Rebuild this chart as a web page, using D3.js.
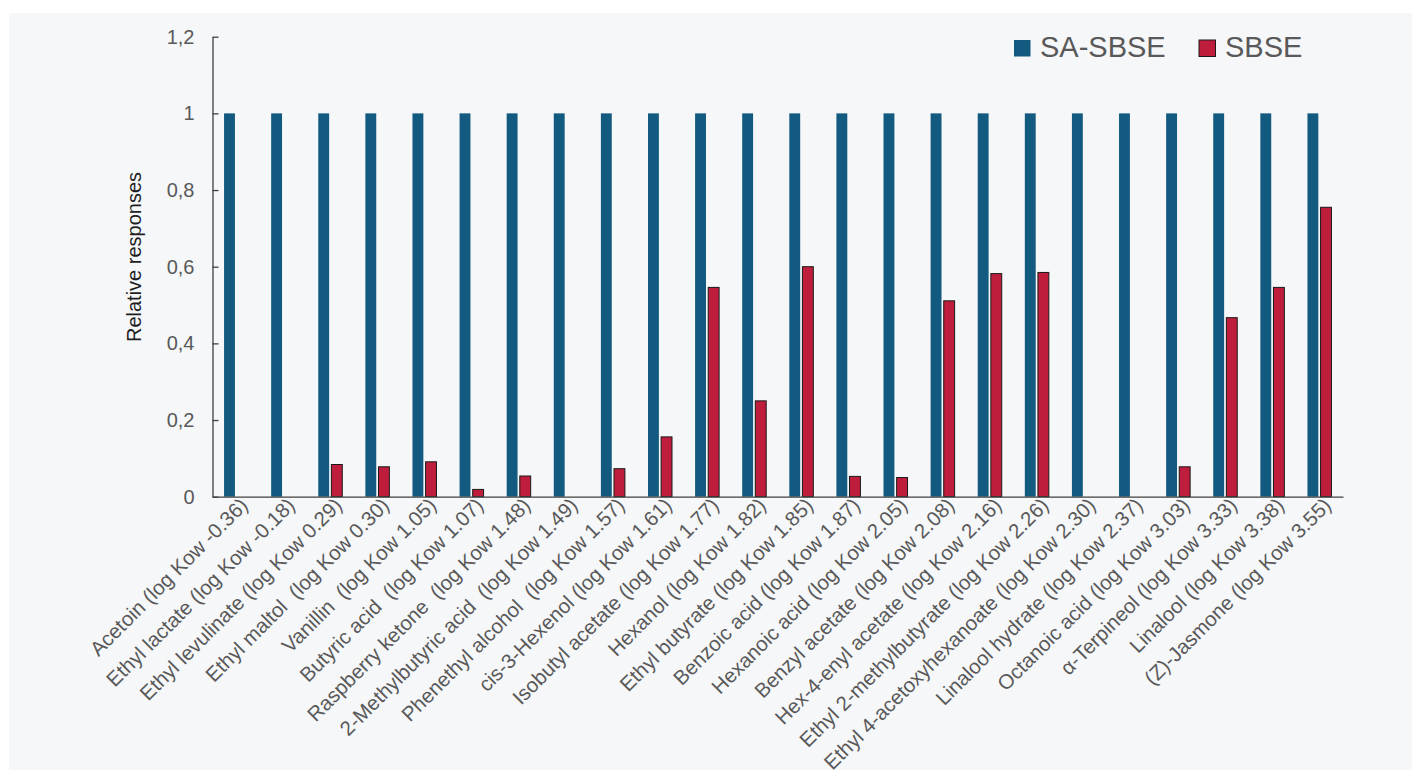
<!DOCTYPE html>
<html>
<head>
<meta charset="utf-8">
<script src="https://cdn.jsdelivr.net/npm/d3@7"></script>
<style>
  html, body { margin: 0; padding: 0; background: #ffffff; }
  svg { display: block; font-family: "Liberation Sans", Arial, sans-serif; }
  .cat-label { white-space: pre; }
</style>
</head>
<body>
<svg id="chart" width="1421" height="778"></svg>
<script>
// Compounds (with their log Kow) on the category axis
const compounds = [
  "Acetoin (log Kow -0.36)",
  "Ethyl lactate (log Kow -0.18)",
  "Ethyl levulinate (log Kow 0.29)",
  "Ethyl maltol  (log Kow 0.30)",
  "Vanillin  (log Kow 1.05)",
  "Butyric acid  (log Kow 1.07)",
  "Raspberry ketone  (log Kow 1.48)",
  "2-Methylbutyric acid  (log Kow 1.49)",
  "Phenethyl alcohol  (log Kow 1.57)",
  "cis-3-Hexenol (log Kow 1.61)",
  "Isobutyl acetate (log Kow 1.77)",
  "Hexanol (log Kow 1.82)",
  "Ethyl butyrate (log Kow 1.85)",
  "Benzoic acid (log Kow 1.87)",
  "Hexanoic acid (log Kow 2.05)",
  "Benzyl acetate (log Kow 2.08)",
  "Hex-4-enyl acetate (log Kow 2.16)",
  "Ethyl 2-methylbutyrate (log Kow 2.26)",
  "Ethyl 4-acetoxyhexanoate (log Kow 2.30)",
  "Linalool hydrate (log Kow 2.37)",
  "Octanoic acid (log Kow 3.03)",
  "α-Terpineol (log Kow 3.33)",
  "Linalool (log Kow 3.38)",
  "(Z)-Jasmone (log Kow 3.55)"
];

// Relative responses, SA-SBSE taken as reference (= 1)
const saSbse = [1, 1, 1, 1, 1, 1, 1, 1, 1, 1, 1, 1, 1, 1, 1, 1, 1, 1, 1, 1, 1, 1, 1, 1];
const sbse = [0, 0, 0.084, 0.078, 0.091, 0.019, 0.054, 0, 0.073, 0.156,
              0.546, 0.250, 0.600, 0.053, 0.050, 0.511, 0.582, 0.585,
              0, 0, 0.078, 0.467, 0.546, 0.755];

const seriesNames = ["SA-SBSE", "SBSE"];
const seriesColors = ["#135a80", "#be1e3c"];

const yTickValues = [0, 0.2, 0.4, 0.6, 0.8, 1, 1.2];
const yTickLabels = ["0", "0,2", "0,4", "0,6", "0,8", "1", "1,2"];
const yTitle = "Relative responses";

const svg = d3.select("#chart");
const textColor = "#595959";
const axisColor = "#404040";

// panel background
svg.append("rect")
  .attr("x", 9).attr("y", 13)
  .attr("width", 1403).attr("height", 757)
  .attr("fill", "#f6f7f9");

const plot = { left: 212.5, right: 1343, top: 36.7, bottom: 496.7 };

const x0 = d3.scaleBand()
  .domain(compounds)
  .range([plot.left, plot.right])
  .padding(0);

const pairWidth = 24;
const x1 = d3.scaleBand()
  .domain(seriesNames)
  .range([x0.bandwidth() / 2 - pairWidth / 2, x0.bandwidth() / 2 + pairWidth / 2])
  .paddingInner(0.17)
  .paddingOuter(0);

const y = d3.scaleLinear()
  .domain([0, 1.2])
  .range([plot.bottom, plot.top]);

const rows = compounds.map((c, i) => ({
  name: c,
  values: [
    { series: seriesNames[0], value: saSbse[i] },
    { series: seriesNames[1], value: sbse[i] }
  ]
}));

// bars
const groups = svg.append("g").selectAll("g")
  .data(rows)
  .join("g")
  .attr("transform", d => `translate(${x0(d.name)},0)`);

groups.selectAll("rect")
  .data(d => d.values.filter(v => v.value > 0))
  .join("rect")
  .attr("x", v => x1(v.series))
  .attr("y", v => y(v.value))
  .attr("width", x1.bandwidth())
  .attr("height", v => y(0) - y(v.value))
  .attr("fill", v => seriesColors[seriesNames.indexOf(v.series)])
  .attr("stroke", v => v.series === "SBSE" ? "#1a1a1a" : "none")
  .attr("stroke-width", 1);

// y axis
const yAxis = d3.axisLeft(y)
  .tickValues(yTickValues)
  .tickFormat((d, i) => yTickLabels[i])
  .tickSizeInner(-6)
  .tickSizeOuter(0)
  .tickPadding(18);

const gy = svg.append("g")
  .attr("transform", `translate(${plot.left},0)`)
  .call(yAxis);
gy.select(".domain").attr("stroke", axisColor).attr("stroke-width", 1.3);
gy.selectAll(".tick line").attr("stroke", axisColor).attr("stroke-width", 1.3);
gy.selectAll(".tick text")
  .attr("fill", textColor)
  .attr("font-size", 20)
  .attr("font-family", "Liberation Sans, Arial, sans-serif");

// x axis
const xAxis = d3.axisBottom(x0).tickSize(0).tickSizeOuter(0).tickFormat("");
const gx = svg.append("g")
  .attr("transform", `translate(0,${plot.bottom})`)
  .call(xAxis);
gx.select(".domain").attr("stroke", axisColor).attr("stroke-width", 1.3);

// rotated category labels
svg.append("g").selectAll("text")
  .data(compounds)
  .join("text")
  .attr("class", "cat-label")
  .attr("transform", d => `translate(${x0(d) + x0.bandwidth() / 2 + 13},${plot.bottom + 10}) rotate(-45)`)
  .attr("text-anchor", "end")
  .attr("fill", textColor)
  .attr("font-size", 20.5)
  .text(d => d);

// y axis title
svg.append("text")
  .attr("transform", `translate(141,257) rotate(-90)`)
  .attr("text-anchor", "middle")
  .attr("fill", "#1f1f1f")
  .attr("font-size", 20)
  .text(yTitle);

// legend
const legend = svg.append("g");
const legendX = [1014, 1199];
seriesNames.forEach((s, i) => {
  legend.append("rect")
    .attr("x", legendX[i]).attr("y", 40)
    .attr("width", 16.5).attr("height", 16.5)
    .attr("fill", seriesColors[i])
    .attr("stroke", i === 1 ? "#1a1a1a" : "none")
    .attr("stroke-width", 1);
  legend.append("text")
    .attr("x", legendX[i] + 26).attr("y", 57)
    .attr("fill", textColor)
    .attr("font-size", 29)
    .text(s);
});
</script>
</body>
</html>
